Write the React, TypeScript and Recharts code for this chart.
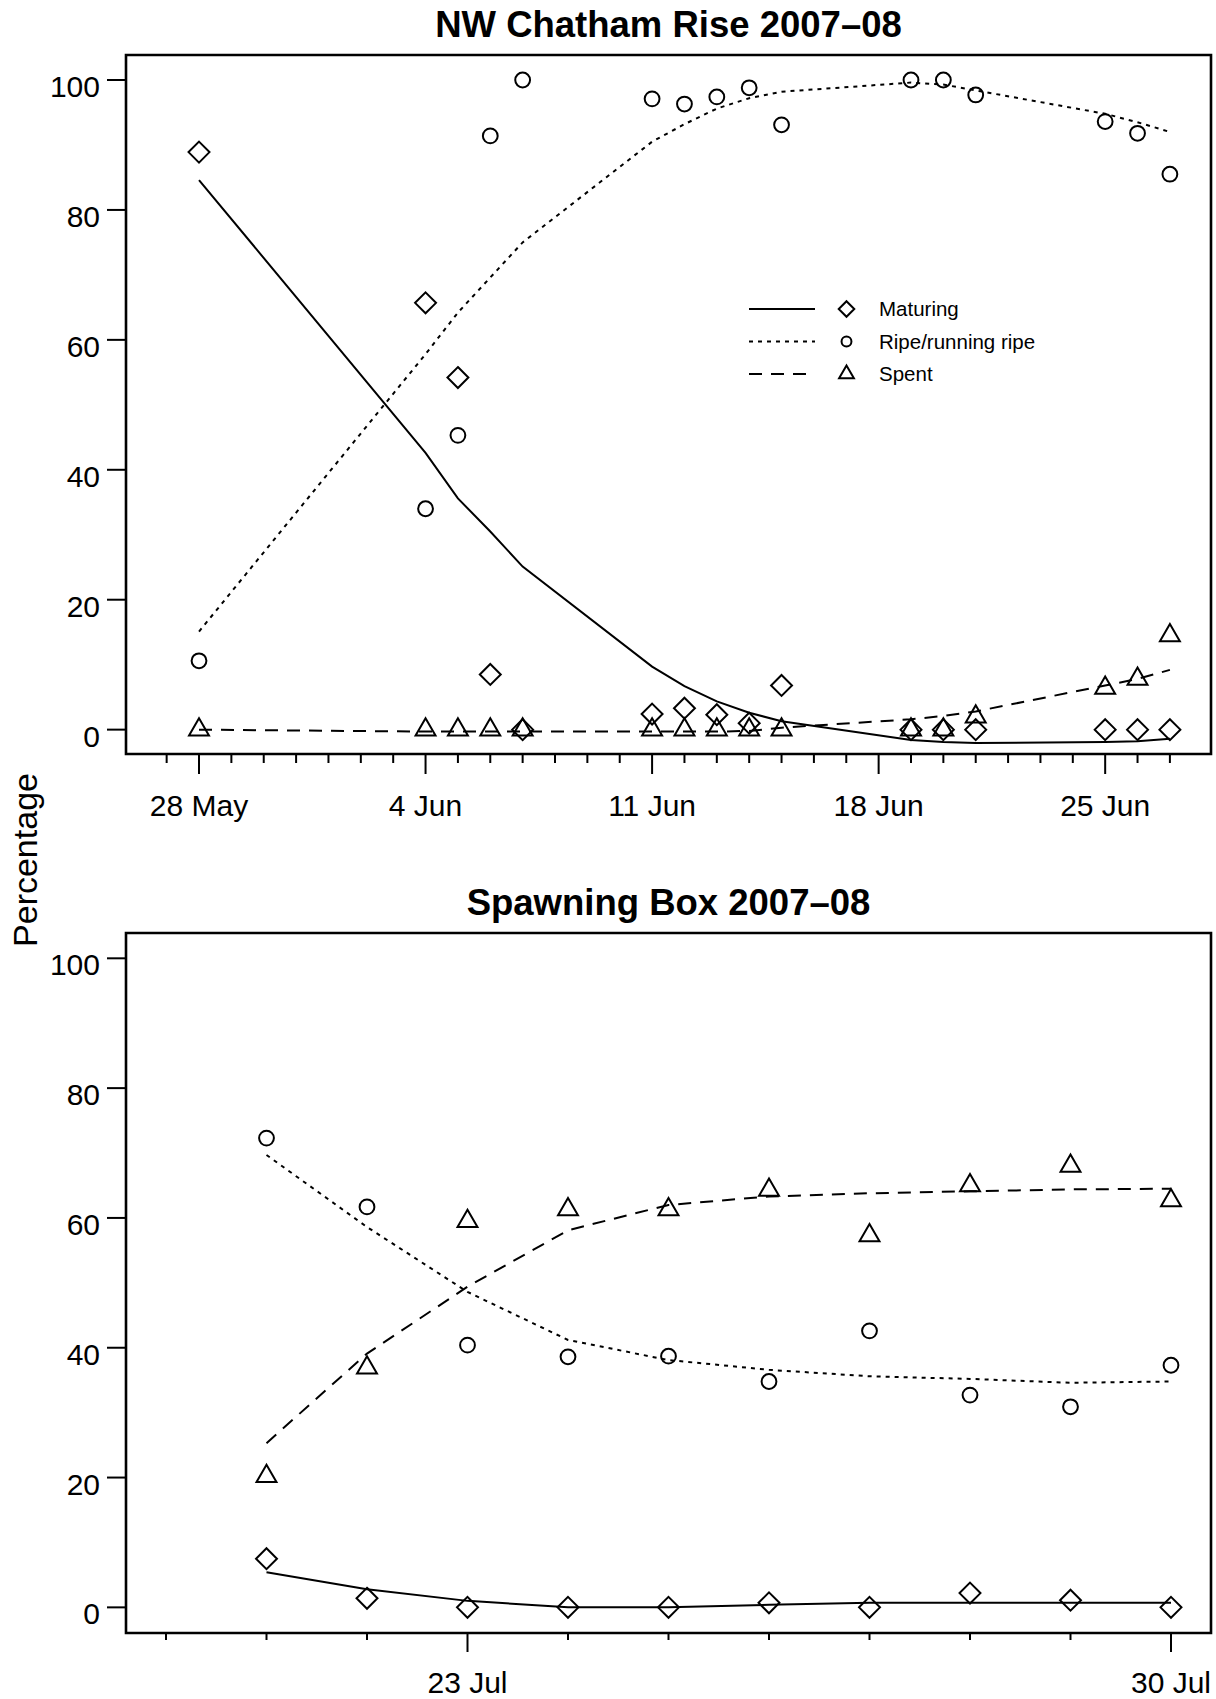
import React from 'react';
import {
  ComposedChart,
  Line,
  Scatter,
  XAxis,
  YAxis,
  ReferenceArea,
  Legend,
} from 'recharts';

const FONT = '"Liberation Sans", Arial, Helvetica, sans-serif';

// NW Chatham Rise 2007-08, x = days after 28 May
const nwDays = [0, 7, 8, 9, 10, 14, 15, 16, 17, 18, 22, 23, 24, 28, 29, 30];
const nwMaturing = [88.9, 65.7, 54.2, 8.5, 0, 2.4, 3.3, 2.3, 1.0, 6.8, 0, 0, 0, 0, 0, 0];
const nwRipe = [10.6, 34.0, 45.3, 91.4, 100, 97.1, 96.3, 97.4, 98.8, 93.1, 100, 100, 97.7, 93.6, 91.8, 85.5];
const nwSpent = [0, 0, 0, 0, 0, 0, 0, 0, 0, 0, 0, 0, 2.0, 6.4, 7.8, 14.5];
const nwMaturingFit = [84.6, 42.6, 35.6, 30.5, 25.1, 9.7, 6.7, 4.35, 2.6, 1.3, -1.6, -1.9, -2.05, -1.9, -1.8, -1.4];
const nwRipeFit = [15.1, 57.8, 64.2, 69.6, 75.0, 90.5, 93.2, 95.6, 97.2, 98.2, 99.6, 99.3, 98.4, 94.8, 93.5, 92.0];
const nwSpentFit = [0, -0.3, -0.3, -0.3, -0.3, -0.3, -0.3, -0.3, -0.2, 0.3, 1.6, 2.1, 2.8, 6.8, 7.8, 9.2];
const nwMajorTicks = [0, 7, 14, 21, 28];
const nwTickLabels = ['28 May', '4 Jun', '11 Jun', '18 Jun', '25 Jun'];

// Spawning Box 2007-08, x = days after 23 Jul
const sbDays = [-2, -1, 0, 1, 2, 3, 4, 5, 6, 7];
const sbMaturing = [7.5, 1.4, 0, 0, 0, 0.7, 0, 2.2, 1.1, 0];
const sbRipe = [72.3, 61.7, 40.4, 38.6, 38.7, 34.8, 42.6, 32.7, 30.9, 37.3];
const sbSpent = [20.2, 36.9, 59.5, 61.3, 61.3, 64.3, 57.3, 65.0, 68.0, 62.7];
const sbMaturingFit = [5.4, 2.8, 1.0, 0, 0, 0.4, 0.7, 0.7, 0.7, 0.7];
const sbRipeFit = [69.7, 58.6, 48.6, 41.2, 38.1, 36.6, 35.6, 35.2, 34.6, 34.8];
const sbSpentFit = [25.3, 39.1, 49.4, 58.1, 62.0, 63.3, 63.8, 64.1, 64.4, 64.5];
const sbMajorTicks = [0, 7];
const sbTickLabels = ['23 Jul', '30 Jul'];

const yTicks = [0, 20, 40, 60, 80, 100];

const DOTTED = '4 5';
const DASHED = '13 9';
const TICK_FONT = 30;

const buildRows = (
  days: number[],
  maturing: number[],
  ripe: number[],
  spent: number[],
  matFit: number[],
  ripeFit: number[],
  spentFit: number[]
) =>
  days.map((day, i) => ({
    day,
    maturing: maturing[i],
    ripe: ripe[i],
    spent: spent[i],
    matFit: matFit[i],
    ripeFit: ripeFit[i],
    spentFit: spentFit[i],
  }));

const nwRows = buildRows(nwDays, nwMaturing, nwRipe, nwSpent, nwMaturingFit, nwRipeFit, nwSpentFit);
const sbRows = buildRows(sbDays, sbMaturing, sbRipe, sbSpent, sbMaturingFit, sbRipeFit, sbSpentFit);

// plotting symbols, sized from a common radius like R's pch 1, 2 and 5
const diamondPath = (cx: number, cy: number, r: number) => {
  const h = r * Math.SQRT2;
  return `M${cx},${cy - h}L${cx + h},${cy}L${cx},${cy + h}L${cx - h},${cy}Z`;
};
const trianglePath = (cx: number, cy: number, r: number) => {
  const top = r * 1.555;
  const half = r * 1.347;
  const base = r * 0.778;
  return `M${cx},${cy - top}L${cx + half},${cy + base}L${cx - half},${cy + base}Z`;
};

const SYM_R = 7.4;

const DiamondDot = (props: any) => (
  <path d={diamondPath(props.cx, props.cy, SYM_R)} fill="none" stroke="#000" strokeWidth={2} />
);
const CircleDot = (props: any) => (
  <circle cx={props.cx} cy={props.cy} r={SYM_R} fill="none" stroke="#000" strokeWidth={2} />
);
const TriangleDot = (props: any) => (
  <path d={trianglePath(props.cx, props.cy, SYM_R)} fill="none" stroke="#000" strokeWidth={2} />
);

const makeXTick = (majors: number[], labels: string[], majorLen: number, minorLen: number, labelDy: number) =>
  (props: any) => {
    const { x, y, payload } = props;
    const idx = majors.indexOf(payload.value);
    const major = idx >= 0;
    return (
      <g>
        <line x1={x} x2={x} y1={y} y2={y + (major ? majorLen : minorLen)} stroke="#000" strokeWidth={2} />
        {major && (
          <text x={x} y={y + labelDy} textAnchor="middle" fontSize={TICK_FONT} fontFamily={FONT} fill="#000">
            {labels[idx]}
          </text>
        )}
      </g>
    );
  };

const YTick = (props: any) => {
  const { x, y, payload } = props;
  return (
    <g>
      <line x1={x - 19} x2={x} y1={y} y2={y} stroke="#000" strokeWidth={2} />
      <text x={x - 26} y={y + 17} textAnchor="end" fontSize={TICK_FONT} fontFamily={FONT} fill="#000">
        {payload.value}
      </text>
    </g>
  );
};

const legendItems = [
  { label: 'Maturing', dash: undefined, sym: 'diamond' },
  { label: 'Ripe/running ripe', dash: DOTTED, sym: 'circle' },
  { label: 'Spent', dash: DASHED, sym: 'triangle' },
];

const StageLegend = () => {
  const r = 5.5;
  return (
    <svg width={300} height={110}>
      {legendItems.map((item, i) => {
        const y = 19 + i * 32.5;
        const sx = 106.5;
        return (
          <g key={item.label}>
            <line x1={9} x2={75} y1={y} y2={y} stroke="#000" strokeWidth={2} strokeDasharray={item.dash} />
            {item.sym === 'diamond' && <path d={diamondPath(sx, y, r)} fill="none" stroke="#000" strokeWidth={2} />}
            {item.sym === 'circle' && <circle cx={sx} cy={y} r={r * 0.9} fill="none" stroke="#000" strokeWidth={2} />}
            {item.sym === 'triangle' && <path d={trianglePath(sx, y, r)} fill="none" stroke="#000" strokeWidth={2} />}
            <text x={139} y={y + 7} fontSize={20.5} fontFamily={FONT} fill="#000">
              {item.label}
            </text>
          </g>
        );
      })}
    </svg>
  );
};

interface PanelProps {
  rows: any[];
  height: number;
  marginTop: number;
  axisHeight: number;
  xDomain: [number, number];
  yDomain: [number, number];
  xTicks: number[];
  tick: (props: any) => React.ReactElement;
  legend?: boolean;
}

const Panel = ({ rows, height, marginTop, axisHeight, xDomain, yDomain, xTicks, tick, legend }: PanelProps) => (
  <ComposedChart
    width={1216}
    height={height}
    data={rows}
    margin={{ top: marginTop, right: 5, bottom: 6, left: 0 }}
  >
    <XAxis
      dataKey="day"
      type="number"
      domain={xDomain}
      allowDataOverflow
      ticks={xTicks}
      interval={0}
      axisLine={false}
      tickLine={false}
      tickSize={0}
      tickMargin={0}
      height={axisHeight}
      tick={tick}
    />
    <YAxis
      type="number"
      domain={yDomain}
      allowDataOverflow
      ticks={yTicks}
      interval={0}
      axisLine={false}
      tickLine={false}
      tickSize={0}
      tickMargin={0}
      width={126}
      tick={<YTick />}
    />
    <ReferenceArea
      x1={xDomain[0]}
      x2={xDomain[1]}
      y1={yDomain[0]}
      y2={yDomain[1]}
      fill="none"
      stroke="#000"
      strokeWidth={2.6}
      ifOverflow="visible"
    />
    <Line type="linear" dataKey="matFit" stroke="#000" strokeWidth={2} dot={false} activeDot={false} isAnimationActive={false} />
    <Line type="linear" dataKey="ripeFit" stroke="#000" strokeWidth={2} strokeDasharray={DOTTED} dot={false} activeDot={false} isAnimationActive={false} />
    <Line type="linear" dataKey="spentFit" stroke="#000" strokeWidth={2} strokeDasharray={DASHED} dot={false} activeDot={false} isAnimationActive={false} />
    <Scatter dataKey="maturing" shape={DiamondDot} isAnimationActive={false} />
    <Scatter dataKey="ripe" shape={CircleDot} isAnimationActive={false} />
    <Scatter dataKey="spent" shape={TriangleDot} isAnimationActive={false} />
    {legend && (
      <Legend
        layout="vertical"
        align="center"
        verticalAlign="middle"
        content={<StageLegend />}
        wrapperStyle={{ left: 740, top: 290, width: 300, height: 110 }}
      />
    )}
  </ComposedChart>
);

const nwXTicks = Array.from({ length: 32 }, (_, i) => i - 1);
const sbXTicks = Array.from({ length: 11 }, (_, i) => i - 3);

export default function App() {
  return (
    <div
      style={{
        position: 'absolute',
        left: 0,
        top: 0,
        width: 1216,
        height: 1699,
        background: '#fff',
        fontFamily: FONT,
      }}
    >
      <div style={{ position: 'absolute', left: 0, top: 0 }}>
        <Panel
          rows={nwRows}
          height={840}
          marginTop={55}
          axisHeight={80}
          xDomain={[-2.256, 31.27]}
          yDomain={[-3.75, 103.85]}
          xTicks={nwXTicks}
          tick={makeXTick(nwMajorTicks, nwTickLabels, 20, 9, 62)}
          legend
        />
      </div>
      <div style={{ position: 'absolute', left: 0, top: 860 }}>
        <Panel
          rows={sbRows}
          height={839}
          marginTop={73}
          axisHeight={60}
          xDomain={[-3.398, 7.398]}
          yDomain={[-3.95, 103.9]}
          xTicks={sbXTicks}
          tick={makeXTick(sbMajorTicks, sbTickLabels, 19, 7, 60)}
        />
      </div>
      <svg
        width={1216}
        height={1699}
        style={{ position: 'absolute', left: 0, top: 0, pointerEvents: 'none' }}
      >
        <text x={668.5} y={37} textAnchor="middle" fontSize={36.5} fontWeight="bold" fontFamily={FONT}>
          NW Chatham Rise 2007–08
        </text>
        <text x={668.5} y={915} textAnchor="middle" fontSize={36.5} fontWeight="bold" fontFamily={FONT}>
          Spawning Box 2007–08
        </text>
        <text
          x={0}
          y={0}
          transform="translate(37,860) rotate(-90)"
          textAnchor="middle"
          fontSize={34}
          fontFamily={FONT}
        >
          Percentage
        </text>
      </svg>
    </div>
  );
}
